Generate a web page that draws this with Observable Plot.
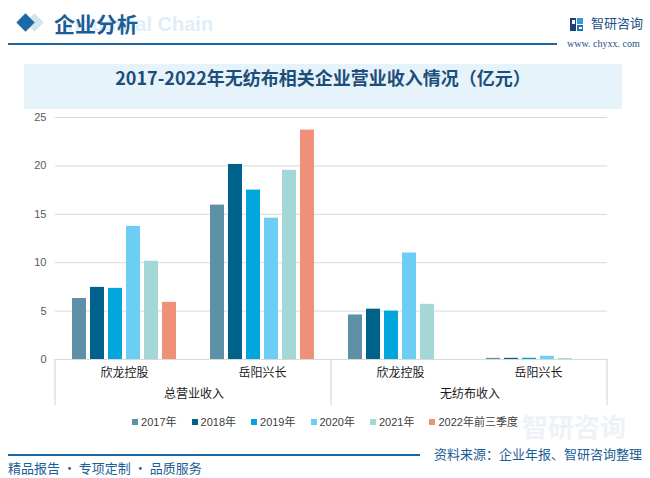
<!DOCTYPE html>
<html>
<head>
<meta charset="utf-8">
<script src="https://cdn.jsdelivr.net/npm/d3@7"></script>
<script src="https://cdn.jsdelivr.net/npm/@observablehq/plot@0.6"></script>
<style>
  html, body { margin: 0; padding: 0; background: #fff; }
  #page { position: relative; width: 650px; height: 478px; overflow: hidden; background: #fff;
    font-family: "Liberation Sans", "Noto Sans CJK SC", sans-serif; }
  .abs { position: absolute; white-space: nowrap; }
  #chart { position: absolute; left: 0; top: 105px; }
  #legend { position: absolute; top: 414px; left: 0; width: 650px; display: flex; justify-content: center;
    gap: 15px; font-size: 11px; color: #404040; line-height: 16px; }
  #legend .item { display: flex; align-items: center; gap: 3px; }
  #legend .sw { width: 6px; height: 6px; display: inline-block; }
</style>
</head>
<body>
<div id="page">
  <!-- header -->
  <div class="abs" style="left:62px;top:13px;font:bold 20px 'Liberation Sans',sans-serif;color:#e1eef8;">Industrial Chain</div>
  <div class="abs" style="left:28px;top:16px;width:13px;height:13px;background:#d3e4ef;transform:rotate(45deg);"></div>
  <div class="abs" style="left:19px;top:16px;width:13px;height:13px;background:#1b6aa5;transform:rotate(45deg);"></div>
  <div class="abs" style="left:54px;top:8px;font:bold 21px 'Noto Sans CJK SC',sans-serif;color:#1b5d96;line-height:30px;">企业分析</div>
  <div class="abs" style="left:8px;top:43px;width:549px;height:2px;background:#1a66a3;"></div>
  <div class="abs" style="left:570px;top:17px;width:13px;height:13px;">
    <svg width="13" height="13"><rect x="0" y="0" width="6" height="13" fill="#1f3f7a"/><rect x="7" y="0" width="6" height="6" fill="#3b9ad9"/><rect x="7" y="7" width="6" height="6" fill="#1f6fb5"/><rect x="2" y="2" width="3" height="4" fill="#fff"/><rect x="9" y="9" width="3" height="2" fill="#fff"/></svg>
  </div>
  <div class="abs" style="left:591px;top:14px;font:13px 'Noto Sans CJK SC',sans-serif;color:#1b4f86;line-height:18px;">智研咨询</div>
  <div class="abs" style="left:567px;top:37px;font:10px 'Liberation Serif',serif;color:#1b4f86;line-height:13px;">www. chyxx. com</div>

  <!-- title -->
  <div class="abs" style="left:24px;top:64px;width:598px;height:45px;background:#e6f3fb;"></div>
  <div class="abs" style="left:24px;top:64px;width:598px;height:45px;line-height:45px;text-align:center;font:bold 18px 'Noto Sans CJK SC',sans-serif;color:#1d4e79;">2017-2022年无纺布相关企业营业收入情况（亿元）</div>

  <!-- watermark -->
  <div class="abs" style="left:522px;top:411px;font:bold 26px 'Noto Sans CJK SC',sans-serif;color:#eef2f6;line-height:30px;">智研咨询</div>

  <div id="chart"></div>
  <div id="legend"></div>

  <!-- footer -->
  <div class="abs" style="left:8px;top:454px;width:412px;height:2px;background:#1a66a3;"></div>
  <div class="abs" style="left:8px;top:459px;font:13px 'Noto Sans CJK SC',sans-serif;color:#1b5d96;line-height:18px;">精品报告 · 专项定制 · 品质服务</div>
  <div class="abs" style="left:434px;top:445px;font:13px 'Noto Sans CJK SC',sans-serif;color:#1b5d96;line-height:18px;">资料来源：企业年报、智研咨询整理</div>
</div>
<script>
// ---- data ----
const groups = ["总营业收入", "无纺布收入"];
const companies = ["欣龙控股", "岳阳兴长"];
const years = ["2017年", "2018年", "2019年", "2020年", "2021年", "2022年前三季度"];
const colors = ["#5e90a8", "#00618a", "#00a6dc", "#6dcef5", "#a3d8d6", "#ef9078"];
const totalXinlong   = [6.3, 7.45, 7.35, 13.75, 10.15, 5.9];
const totalYueyang   = [15.95, 20.15, 17.5, 14.6, 19.55, 23.7];
const nonwovenXinlong = [4.6, 5.2, 5.0, 11.0, 5.7, null];
const nonwovenYueyang = [0.12, 0.12, 0.13, 0.33, 0.1, null];
const yTicks = [0, 5, 10, 15, 20, 25];

// ---- table ----
const seriesByKey = [
  [groups[0], companies[0], totalXinlong],
  [groups[0], companies[1], totalYueyang],
  [groups[1], companies[0], nonwovenXinlong],
  [groups[1], companies[1], nonwovenYueyang]
];
const keys = seriesByKey.map(([g, c]) => g + "|" + c);
const rows = [];
seriesByKey.forEach(([g, c, vals]) => {
  vals.forEach((v, i) => { if (v != null) rows.push({key: g + "|" + c, year: years[i], value: v}); });
});
const groupLabels = groups.map(g => ({key: keys.find(k => k.startsWith(g + "|")), label: g}));

const W = 650, H = 315, mL = 53, mR = 42, mT = 12, mB = 61;
const facetW = (W - mL - mR) / keys.length;

const plot = Plot.plot({
  width: W, height: H,
  marginLeft: mL, marginRight: mR, marginTop: mT, marginBottom: mB,
  style: {fontFamily: "'Liberation Sans','Noto Sans CJK SC',sans-serif", background: "transparent"},
  fx: {domain: keys, padding: 0, label: null},
  x: {domain: years, paddingInner: 0.23, paddingOuter: 0.9, axis: null},
  y: {domain: [0, 25], label: null},
  color: {domain: years, range: colors},
  marks: [
    Plot.gridY(yTicks.slice(1), {stroke: "#d9d9d9", strokeOpacity: 1, strokeWidth: 1}),
    Plot.barY(rows, {fx: "key", x: "year", y: "value", fill: "year"}),
    Plot.ruleY([0], {stroke: "#d9d9d9", strokeWidth: 1.2}),
    Plot.axisY(yTicks, {tickSize: 0, tickPadding: 9, fontSize: 11, fill: "#595959", label: null}),
    Plot.axisFx({anchor: "bottom", tickSize: 0, tickPadding: 9, fontSize: 12, fill: "#1a1a1a", label: null,
      tickFormat: k => k.split("|")[1]}),
    Plot.text(groupLabels, {fx: "key", text: "label", frameAnchor: "bottom", dx: facetW / 2, dy: 38,
      fontSize: 12, fill: "#1a1a1a"})
  ]
});
document.getElementById("chart").appendChild(plot);

// category dividers below the axis, positioned from the fx scale
const fxs = plot.scale("fx");
const svg = d3.select(plot);
const baseY = H - mB;
const divX = [fxs.apply(keys[0]), fxs.apply(groupLabels[1].key), fxs.apply(keys[keys.length - 1]) + fxs.bandwidth];
svg.append("g").selectAll("line").data(divX).join("line")
  .attr("x1", d => d).attr("x2", d => d)
  .attr("y1", baseY).attr("y2", baseY + 46)
  .attr("stroke", "#d9d9d9").attr("stroke-width", 1.2);

// legend
const legend = d3.select("#legend");
years.forEach((y, i) => {
  const it = legend.append("div").attr("class", "item");
  it.append("span").attr("class", "sw").style("background", colors[i]);
  it.append("span").text(y);
});
</script>
</body>
</html>
